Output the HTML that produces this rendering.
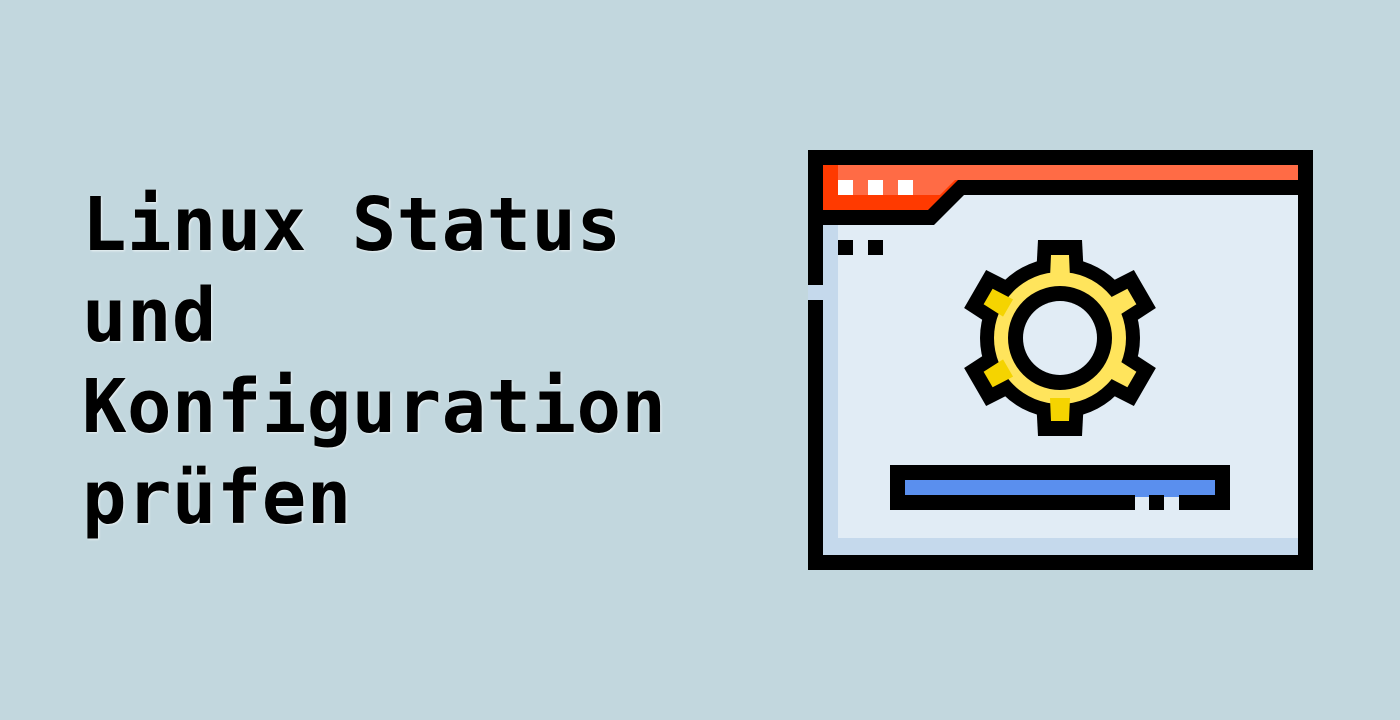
<!DOCTYPE html>
<html><head><meta charset="utf-8"><style>
html,body{margin:0;padding:0}
body{width:1400px;height:720px;background:#C2D7DE;position:relative;overflow:hidden}
.t{position:absolute;left:82px;top:180px;font-family:"DejaVu Sans Mono","Liberation Mono",monospace;font-weight:bold;font-size:74px;letter-spacing:0.4px;line-height:91px;color:#000;text-shadow:1px 1px 2px rgba(255,255,255,.7);white-space:pre}
svg{position:absolute;left:0;top:0}
</style></head><body>
<div class="t">Linux Status
und
Konfiguration
prüfen</div>
<svg width="1400" height="720" viewBox="0 0 1400 720">
<rect x="808" y="150" width="505" height="420" fill="#000"/>
<rect x="823" y="165" width="475" height="390" fill="#E1ECF5"/>
<rect x="823" y="165" width="15" height="390" fill="#C5D9EC"/>
<rect x="823" y="538" width="475" height="17" fill="#C5D9EC"/>
<rect x="823" y="165" width="475" height="15" fill="#FF6B45"/>
<polygon points="823,165 838,165 838,180 960,180 930,210 823,210" fill="#FF3A00"/>
<polygon points="838,180 955,180 940,195 838,195" fill="#FF6B45"/>
<polygon points="823,210 928,210 958,180 1298,180 1298,195 964,195 934,225 823,225" fill="#000"/>
<rect x="838" y="180" width="15" height="15" fill="#fff"/>
<rect x="868" y="180" width="15" height="15" fill="#fff"/>
<rect x="898" y="180" width="15" height="15" fill="#fff"/>
<rect x="808" y="285" width="15" height="15" fill="#C5D9EC"/>
<rect x="838" y="240" width="15" height="15" fill="#000"/>
<rect x="868" y="240" width="15" height="15" fill="#000"/>
<g transform="translate(1060,338)">
<circle r="80" fill="#000"/>
<g fill="#000">
<polygon id="tb" points="-22,-98 22,-98 24,-60 -24,-60"/>
<use href="#tb" transform="rotate(60)"/>
<use href="#tb" transform="rotate(120)"/>
<use href="#tb" transform="rotate(180)"/>
<use href="#tb" transform="rotate(240)"/>
<use href="#tb" transform="rotate(300)"/>
</g>
<circle r="66" fill="#FFE45C"/>
<path d="M-46,-47 A66,66 0 0 0 22,62 A66,66 0 0 1 -46,-47Z" fill="#F5D400"/>
<g fill="#FFE45C">
<polygon id="ty" points="-9,-83 9,-83 10,-60 -10,-60"/>
<use href="#ty" transform="rotate(60)"/>
<use href="#ty" transform="rotate(120)"/>
</g>
<g fill="#F5D400">
<polygon points="-9,-83 9,-83 10,-60 -10,-60" transform="rotate(180)"/>
<polygon points="-9,-83 9,-83 10,-60 -10,-60" transform="rotate(240)"/>
<polygon points="-9,-83 9,-83 10,-60 -10,-60" transform="rotate(300)"/>
</g>
<circle r="52" fill="#000"/>
<circle r="37" fill="#E1ECF5"/>
</g>
<rect x="890" y="465" width="340" height="45" fill="#000"/>
<rect x="905" y="480" width="310" height="15" fill="#5A8FEE"/>
<rect x="1135" y="495" width="14" height="15" fill="#E1ECF5"/>
<rect x="1164" y="495" width="15" height="15" fill="#E1ECF5"/>
<rect x="1135" y="495" width="14" height="2" fill="#5A8FEE"/>
<rect x="1164" y="495" width="15" height="2" fill="#5A8FEE"/>
</svg>
</body></html>
